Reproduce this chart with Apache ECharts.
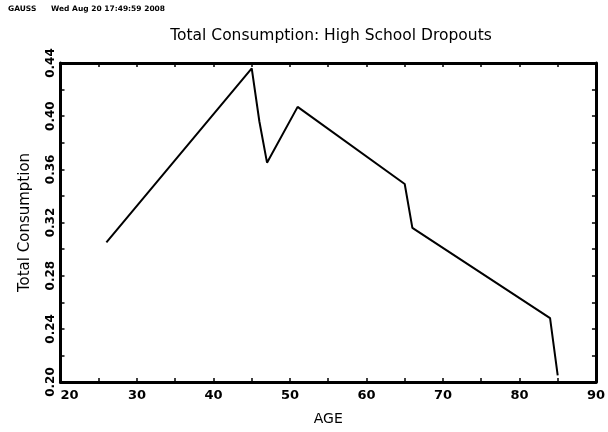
<!DOCTYPE html>
<html>
<head>
<meta charset="utf-8">
<script src="https://cdn.jsdelivr.net/npm/echarts@6/dist/echarts.min.js"></script>
<style>html,body{margin:0;padding:0;background:#fff}#c{width:608px;height:432px}</style>
</head>
<body>
<div id="c"></div>
<script>
var ages = [26, 45, 46, 47, 51, 65, 66, 84, 85];
var consumption = [0.305, 0.436, 0.396, 0.365, 0.407, 0.349, 0.316, 0.248, 0.205];
var titleText = 'Total Consumption: High School Dropouts';
var headerProgram = 'GAUSS';
var headerDate = 'Wed Aug 20 17:49:59 2008';
var xName = 'AGE';
var yName = 'Total Consumption';

var chart = echarts.init(document.getElementById('c'), null, {renderer: 'canvas'});
var font = 'DejaVu Sans';
var axisLineStyle = {color: '#000', width: 3};
var tickStyle = {color: '#000', width: 1.5};
var xBase = {type: 'value', min: 20, max: 90, interval: 5, splitLine: {show: false},
  axisLine: {show: true, onZero: false, lineStyle: axisLineStyle},
  axisTick: {show: true, inside: true, length: 4, lineStyle: tickStyle}};
var yBase = {type: 'value', min: 0.20, max: 0.44, interval: 0.02, splitLine: {show: false},
  axisLine: {show: true, onZero: false, lineStyle: axisLineStyle},
  axisTick: {show: true, inside: true, length: 4, lineStyle: tickStyle}};

chart.setOption({
  animation: false,
  backgroundColor: '#fff',
  title: {text: titleText, left: 326, top: 23, textAlign: 'center',
    textStyle: {fontFamily: font, fontSize: 15.5, fontWeight: 'normal', color: '#000'}},
  graphic: [
    {type: 'text', left: 8, top: 5, style: {text: headerProgram, font: 'bold 7.5px "DejaVu Sans"', fill: '#000'}},
    {type: 'text', left: 51, top: 5, style: {text: headerDate, font: 'bold 7.5px "DejaVu Sans"', fill: '#000'}}
  ],
  grid: {left: 60.5, right: 9, top: 63, bottom: 50},
  xAxis: [
    Object.assign({}, xBase, {position: 'bottom', name: xName, nameLocation: 'middle', nameGap: 30,
      nameTextStyle: {fontFamily: font, fontSize: 14, color: '#000'},
      axisLabel: {color: '#000', fontFamily: font, fontSize: 13, fontWeight: 'bold', margin: 7,
        alignMinLabel: 'left',
        formatter: function (v) { return v % 10 === 0 ? String(v) : ''; }}}),
    Object.assign({}, xBase, {position: 'top', axisLabel: {show: false}})
  ],
  yAxis: [
    Object.assign({}, yBase, {position: 'left', name: yName, nameLocation: 'middle', nameGap: 28,
      nameTextStyle: {fontFamily: font, fontSize: 15, color: '#000'},
      axisLabel: {color: '#000', fontFamily: font, fontSize: 12, fontWeight: 'bold', rotate: 90, margin: 4,
        formatter: function (v) { var r = Math.round(v * 100); return r % 4 === 0 ? v.toFixed(2) : ''; }}}),
    Object.assign({}, yBase, {position: 'right', axisLabel: {show: false}})
  ],
  series: [{
    type: 'line', xAxisIndex: 0, yAxisIndex: 0,
    data: ages.map(function (a, i) { return [a, consumption[i]]; }),
    showSymbol: false, lineStyle: {color: '#000', width: 2}
  }]
});
</script>
</body>
</html>
